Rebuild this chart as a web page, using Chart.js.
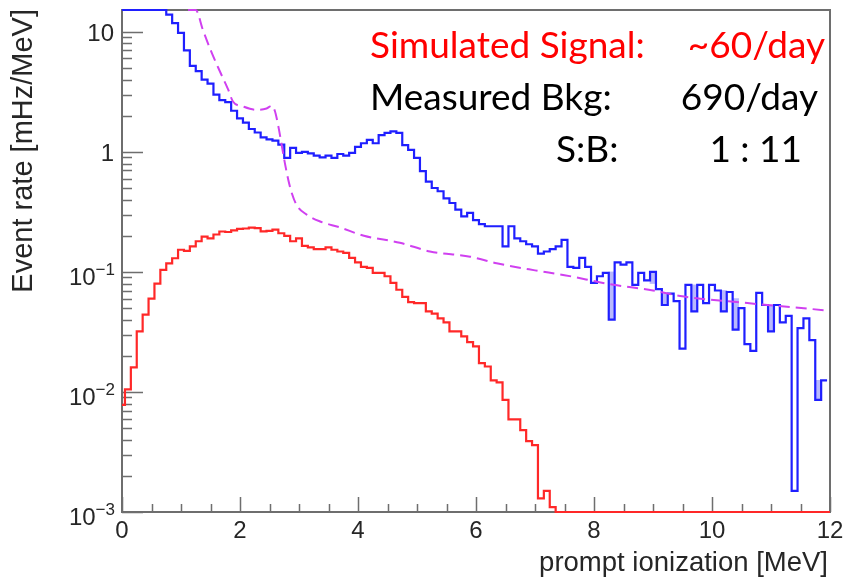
<!DOCTYPE html>
<html>
<head>
<meta charset="utf-8">
<script src="https://cdn.jsdelivr.net/npm/chart.js@4.4.1/dist/chart.umd.min.js"></script>
<style>
  html, body { margin: 0; padding: 0; background: #fff; }
  #wrap { position: relative; width: 844px; height: 579px; }
</style>
</head>
<body>
<div id="wrap"><canvas id="myChart" width="844" height="579"></canvas></div>
<script>
// histogram binning (bins centred on multiples of 0.1 MeV)
var BIN_W = 0.1;
var X_MIN = 0, X_MAX = 12;
var Y_MIN = 1e-3, Y_MAX = 15.2;

var xTicks = [0, 2, 4, 6, 8, 10, 12];
var yTicks = [1e-3, 1e-2, 1e-1, 1, 10];
var yTickBase = ["10", "10", "10", "1", "10"];
var yTickExp = ["\u22123", "\u22122", "\u22121", "", ""];

// measured background rate [mHz/MeV], one value per bin
var bkgRate = [
  15.2, 15.2, 15.2, 15.2, 15.2, 15.2, 15.2, 15.2, 13.9, 11.8,
  9.8, 7.0, 5.2, 4.7, 4.0, 3.7, 3.0, 2.7, 2.6, 2.2,
  1.9, 1.75, 1.55, 1.45, 1.32, 1.27, 1.24, 1.15, 0.89, 1.08,
  0.98, 1.0, 0.97, 0.93, 0.90, 0.93, 0.89, 0.96, 0.93, 0.98,
  1.1, 1.18, 1.26, 1.18, 1.38, 1.44, 1.48, 1.44, 1.14, 1.04,
  0.89, 0.69, 0.565, 0.5, 0.47, 0.41, 0.375, 0.33, 0.29, 0.31,
  0.27, 0.25, 0.24, 0.24, 0.24, 0.163, 0.24, 0.19, 0.18, 0.17,
  0.163, 0.142, 0.148, 0.155, 0.163, 0.185, 0.11, 0.108, 0.131, 0.11,
  0.081, 0.092, 0.098, 0.04, 0.12, 0.115, 0.12, 0.078, 0.098, 0.085,
  0.1, 0.072, 0.053, 0.066, 0.057, 0.023, 0.078, 0.047, 0.078, 0.055,
  0.078, 0.07, 0.047, 0.068, 0.033, 0.05, 0.025, 0.022, 0.067, 0.053,
  0.032, 0.053, 0.038, 0.043, 0.0015, 0.034, 0.041, 0.027, 0.0086, 0.0125
];

// shaded spread on a few background bins
var bandX  = [8.3, 9.0, 9.2, 9.7, 10.2, 10.4, 11.0, 11.8];
var bandLo = [0.04, 0.08, 0.053, 0.047, 0.047, 0.033, 0.032, 0.0086];
var bandHi = [0.1, 0.1, 0.066, 0.078, 0.07, 0.06, 0.053, 0.0125];

// simulated signal rate [mHz/MeV], bins above 7.35 MeV are empty
var sigRate = [
  0.0078, 0.0105, 0.016, 0.032, 0.044, 0.06, 0.08, 0.104, 0.118, 0.13,
  0.153, 0.15, 0.163, 0.18, 0.197, 0.19, 0.205, 0.217, 0.215, 0.222,
  0.228, 0.23, 0.234, 0.232, 0.218, 0.22, 0.225, 0.21, 0.2, 0.18,
  0.19, 0.165, 0.16, 0.155, 0.155, 0.16, 0.153, 0.148, 0.144, 0.131,
  0.12, 0.11, 0.108, 0.098, 0.098, 0.092, 0.081, 0.071, 0.062, 0.056,
  0.055, 0.055, 0.047, 0.045, 0.041, 0.038, 0.032, 0.032, 0.029, 0.026,
  0.024, 0.0174, 0.0163, 0.0125, 0.012, 0.0086, 0.0059, 0.0059, 0.0048, 0.0039,
  0.0036, 0.0013, 0.0015, 0.0011
];

// background model curve
var fitX = [1.12, 1.25, 1.37, 1.52, 1.66, 1.80, 1.88, 2.05, 2.28, 2.45, 2.54, 2.59, 2.65, 2.70,
            2.76, 2.82, 2.88, 2.96, 3.13, 3.36, 3.69, 4.1, 4.71, 5.22, 5.9, 6.35, 7.0, 7.5,
            8.27, 9.0, 9.46, 10.6, 11.9];
var fitY = [15.2, 15.2, 10.4, 6.7, 4.67, 3.3, 2.63, 2.39, 2.24, 2.3, 2.42, 2.2, 1.63, 1.19,
            0.81, 0.58, 0.45, 0.36, 0.30, 0.263, 0.235, 0.20, 0.175, 0.148, 0.134, 0.118, 0.103, 0.094,
            0.079, 0.07, 0.063, 0.055, 0.048];

// step points at the bin edges
function histPoints(vals) {
  var pts = [];
  for (var i = 0; i < vals.length; i++) {
    pts.push({ x: Math.max(X_MIN, (i - 0.5) * BIN_W), y: Math.min(vals[i], Y_MAX) });
  }
  var end = Math.min(X_MAX, (vals.length - 0.5) * BIN_W);
  pts.push({ x: end, y: Math.min(vals[vals.length - 1], Y_MAX) });
  return pts;
}

var bkgPts = histPoints(bkgRate);
var sigPts = histPoints(sigRate);
// empty bins sit on the lower frame
var sigEnd = sigPts[sigPts.length - 1].x;
sigPts.push({ x: sigEnd, y: Y_MIN });
sigPts.push({ x: X_MAX, y: Y_MIN });

var bandPts = bandX.map(function (x, i) { return { x: x, y: [bandLo[i], bandHi[i]] }; });
var fitPts = fitX.map(function (x, i) { return { x: x, y: fitY[i] }; });

var LABEL_FONT = '"Liberation Sans", Arial, sans-serif';

// ROOT-style frame: ticks inside, labels with exponents
var rootAxes = {
  id: 'rootAxes',
  beforeDatasetsDraw: function (chart) {
    var ctx = chart.ctx, a = chart.chartArea;
    var xs = chart.scales.x, ys = chart.scales.y;
    ctx.save();
    ctx.strokeStyle = '#6e6e6e';
    ctx.lineWidth = 2;
    ctx.strokeRect(a.left, a.top, a.right - a.left, a.bottom - a.top);
    ctx.lineWidth = 1.5;
    ctx.beginPath();
    for (var v = X_MIN; v <= X_MAX + 1e-6; v += 0.5) {
      var px = Math.round(xs.getPixelForValue(v)) + 0.5;
      var len = (Math.abs(v / 2 - Math.round(v / 2)) < 1e-6) ? 15 : 8;
      ctx.moveTo(px, a.bottom);
      ctx.lineTo(px, a.bottom - len);
    }
    for (var d = -3; d <= 1; d++) {
      for (var m = 1; m <= 9; m++) {
        var val = m * Math.pow(10, d);
        if (val > Y_MAX) break;
        var py = Math.round(ys.getPixelForValue(val)) + 0.5;
        var l = (m === 1) ? 21 : 10;
        ctx.moveTo(a.left, py);
        ctx.lineTo(a.left + l, py);
      }
    }
    ctx.stroke();
    ctx.restore();
  },
  afterDraw: function (chart) {
    var ctx = chart.ctx, a = chart.chartArea;
    var xs = chart.scales.x, ys = chart.scales.y;
    ctx.save();
    ctx.fillStyle = '#262626';
    ctx.textBaseline = 'alphabetic';

    // x tick labels
    ctx.font = '24px ' + LABEL_FONT;
    ctx.textAlign = 'center';
    xTicks.forEach(function (v) {
      ctx.fillText(String(v), xs.getPixelForValue(v), 538);
    });

    // y tick labels
    var right = 115;
    yTicks.forEach(function (v, i) {
      var py = ys.getPixelForValue(v);
      ctx.textAlign = 'right';
      if (yTickExp[i]) {
        ctx.font = '17px ' + LABEL_FONT;
        var w = ctx.measureText(yTickExp[i]).width;
        ctx.fillText(yTickExp[i], right, py + 3);
        ctx.font = '24px ' + LABEL_FONT;
        ctx.fillText(yTickBase[i], right - w, py + 13);
      } else {
        ctx.font = '24px ' + LABEL_FONT;
        ctx.fillText(yTickBase[i], right - 1, py + 9);
      }
    });

    // axis titles
    ctx.font = '27.5px ' + LABEL_FONT;
    ctx.textAlign = 'right';
    ctx.fillText('prompt ionization [MeV]', a.right - 2, 571);

    ctx.save();
    ctx.translate(32, 9);
    ctx.rotate(-Math.PI / 2);
    ctx.font = '29px ' + LABEL_FONT;
    ctx.textAlign = 'right';
    ctx.fillText('Event rate [mHz/MeV]', 0, 0);
    ctx.restore();

    // rate summary
    ctx.font = '37px Lato, "Open Sans", sans-serif';
    ctx.fillStyle = '#ff0000';
    ctx.textAlign = 'left';
    ctx.fillText('Simulated Signal:', 370, 58);
    ctx.textAlign = 'right';
    ctx.fillText('~60/day', 825, 58);
    ctx.fillStyle = '#000000';
    ctx.textAlign = 'left';
    ctx.fillText('Measured Bkg:', 370, 110);
    ctx.textAlign = 'right';
    ctx.fillText('690/day', 818, 110);
    ctx.textAlign = 'left';
    ctx.fillText('S:B:', 556, 162);
    ctx.textAlign = 'right';
    ctx.fillText('1 : 11', 802, 162);
    ctx.restore();
  }
};

var ctx = document.getElementById('myChart').getContext('2d');
var myChart = new Chart(ctx, {
  type: 'line',
  data: {
    datasets: [
      {
        label: 'Background model',
        data: fitPts,
        borderColor: '#d040f0',
        borderWidth: 2,
        borderDash: [11, 6],
        cubicInterpolationMode: 'monotone',
        pointRadius: 0,
        fill: false,
        clip: 3,
        order: 0
      },
      {
        label: 'Measured Bkg',
        data: bkgPts,
        borderColor: '#1f1fff',
        borderWidth: 2.2,
        stepped: true,
        pointRadius: 0,
        fill: false,
        clip: 3,
        order: 1
      },
      {
        label: 'Simulated Signal',
        data: sigPts,
        borderColor: '#ff2828',
        borderWidth: 2.2,
        stepped: true,
        pointRadius: 0,
        fill: false,
        clip: 3,
        order: 2
      },
      {
        type: 'bar',
        label: 'spread',
        data: bandPts,
        backgroundColor: 'rgba(100, 100, 250, 0.45)',
        borderWidth: 0,
        barThickness: 6,
        order: 3
      }
    ]
  },
  options: {
    responsive: false,
    animation: false,
    devicePixelRatio: 1,
    layout: { padding: { top: 10, right: 14, left: 0, bottom: 0 } },
    plugins: {
      legend: { display: false },
      tooltip: { enabled: false },
      title: { display: false }
    },
    scales: {
      x: {
        type: 'linear',
        min: X_MIN,
        max: X_MAX,
        offset: false,
        grid: { display: false },
        border: { display: false },
        ticks: { display: false },
        afterFit: function (s) { s.height = 67; }
      },
      y: {
        type: 'logarithmic',
        min: Y_MIN,
        max: Y_MAX,
        grid: { display: false },
        border: { display: false },
        ticks: { display: false },
        afterFit: function (s) { s.width = 122; }
      }
    }
  },
  plugins: [rootAxes]
});
</script>
</body>
</html>
